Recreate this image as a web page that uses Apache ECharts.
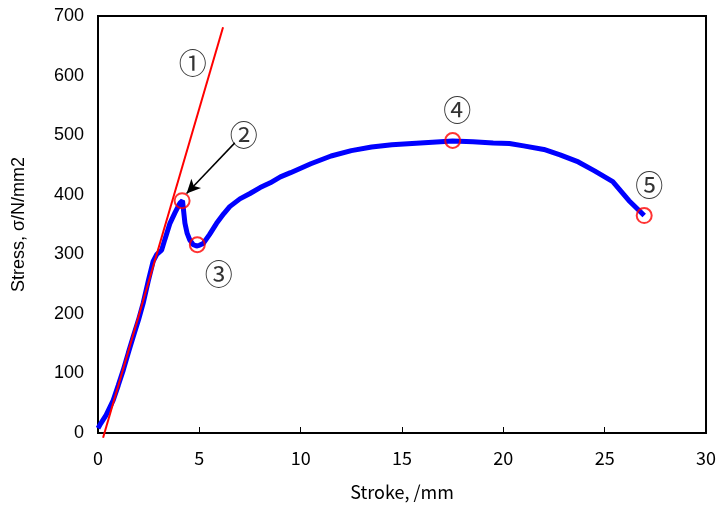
<!DOCTYPE html>
<html>
<head>
<meta charset="utf-8">
<script src="https://cdn.jsdelivr.net/npm/echarts@6/dist/echarts.min.js"></script>
<style>
  html, body { margin: 0; padding: 0; background: #fff; }
  #chart { width: 719px; height: 506px; }
</style>
</head>
<body>
<div id="chart"></div>
<script>
// stress-stroke curve
const stroke = [0, 0.1, 0.4, 0.75, 1.0, 1.25, 1.5, 1.74, 2.0, 2.23, 2.5, 2.72, 2.9, 3.14, 3.3, 3.55, 3.8, 4.04, 4.17, 4.29, 4.4, 4.53, 4.7, 4.86, 5.0, 5.19, 5.5, 5.85, 6.2, 6.5, 7.0, 7.5, 8.0, 8.5, 9.0, 9.5, 10.5, 11.5, 12.5, 13.5, 14.5, 15.5, 16.5, 17.5, 18.5, 19.5, 20.3, 21.0, 22.0, 22.8, 23.7, 24.5, 25.4, 26.2, 26.95]
const stress = [8, 14, 30, 55, 80, 106, 135, 162, 190, 218, 258, 288, 300, 307, 325, 352, 370, 386, 390, 352, 335, 324, 316, 314, 315, 318, 333, 352, 368, 380, 393, 402, 412, 420, 430, 437, 452, 465, 474, 480, 484, 486, 488, 490, 489, 487, 486, 482, 476, 467, 455, 440, 422, 390, 365]

// elastic line (1)
const elasticX = [0.25, 6.17]
const elasticY = [-8, 681]

// circled points
const markerX = [4.15, 4.9, 17.5, 26.95]
const markerY = [390, 316, 491, 365]

// circled numbers
const noteText = ['①', '②', '③', '④', '⑤']
const noteX = [4.68, 7.19, 5.96, 17.73, 27.2]
const noteY = [621, 500, 267, 542, 416]

// arrow from (2) to the peak
const arrowFrom = [6.75, 487]
const arrowTo = [4.37, 402]

const zip = (a, b) => a.map((v, i) => [v, b[i]])

const chart = echarts.init(document.getElementById('chart'))
const option = {
    animation: false,
    grid: {
        left: 98, top: 16, right: 12, bottom: 73,
        show: true, borderColor: '#000', borderWidth: 2, backgroundColor: 'transparent'
    },
    xAxis: {
        type: 'value', min: 0, max: 30, interval: 5,
        name: 'Stroke, /mm', nameLocation: 'middle', nameGap: 50,
        nameTextStyle: { fontSize: 18, color: '#000', fontFamily: 'Noto Sans CJK JP' },
        axisLine: { lineStyle: { color: '#000', width: 2 } },
        axisTick: { inside: true, length: 6, lineStyle: { color: '#000' } },
        axisLabel: { fontSize: 18, color: '#000', margin: 16, fontFamily: 'Noto Sans CJK JP' },
        splitLine: { show: false }
    },
    yAxis: {
        type: 'value', min: 0, max: 700, interval: 100,
        name: 'Stress, σ/N/mm2', nameLocation: 'middle', nameGap: 70, nameRotate: 90,
        nameTextStyle: { fontSize: 18, color: '#000', fontFamily: 'Liberation Sans' },
        axisLine: { show: true, lineStyle: { color: '#000', width: 2 } },
        axisTick: { show: false },
        axisLabel: { fontSize: 18, color: '#000', margin: 14, fontFamily: 'Liberation Sans' },
        splitLine: { show: false }
    },
    series: [
        {
            type: 'line', data: zip(elasticX, elasticY), clip: false,
            showSymbol: false, lineStyle: { color: '#ff0000', width: 2 }, z: 3
        },
        {
            type: 'line', data: zip(stroke, stress),
            showSymbol: false, lineStyle: { color: '#0000ff', width: 5 }, z: 2,
            markLine: {
                silent: true, symbolSize: [10, 14],
                lineStyle: { color: '#000', width: 1.5, type: 'solid' },
                label: { show: false },
                data: [[
                    { coord: arrowFrom, symbol: 'none' },
                    { coord: arrowTo, symbol: 'arrow' }
                ]]
            }
        },
        {
            type: 'scatter', data: zip(markerX, markerY), symbol: 'circle', symbolSize: 15,
            itemStyle: { color: 'transparent', borderColor: '#ff0000', borderWidth: 2 }, z: 4
        },
        {
            type: 'scatter', symbolSize: 0, z: 5,
            data: noteText.map((t, i) => ({ name: t, value: [noteX[i], noteY[i]] })),
            label: {
                show: true, position: 'inside', formatter: p => p.name,
                fontSize: 28, color: '#000', fontFamily: 'Noto Sans CJK JP'
            }
        }
    ]
}
chart.setOption(option)
</script>
</body>
</html>
